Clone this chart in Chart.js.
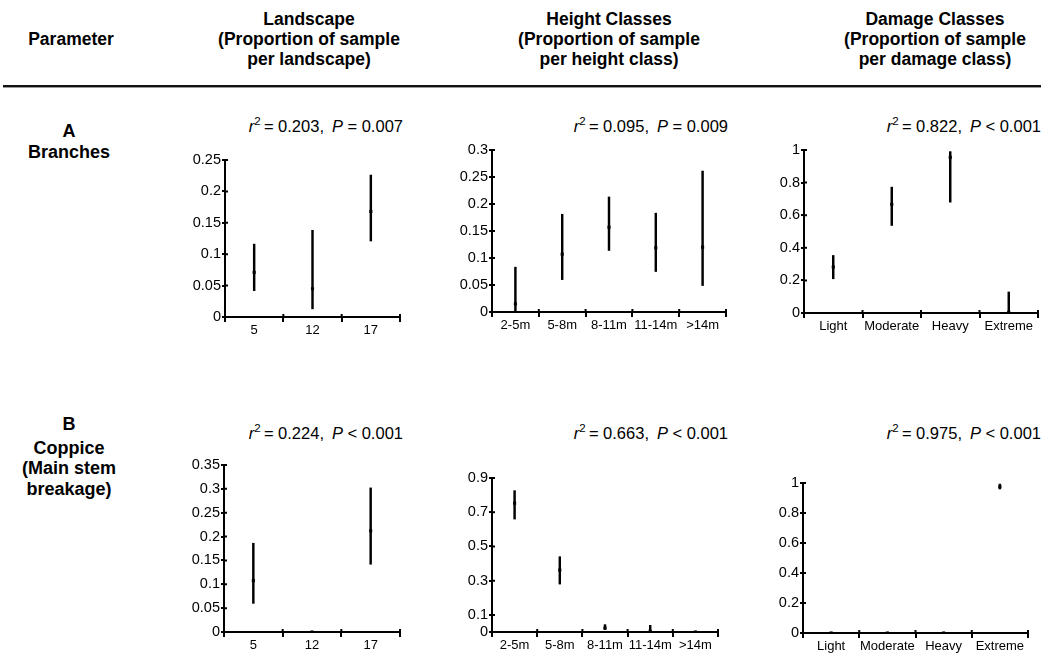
<!DOCTYPE html>
<html><head><meta charset="utf-8">
<script src="https://cdn.jsdelivr.net/npm/chart.js@4"></script>
<style>
html,body{margin:0;padding:0;background:#fff;overflow:hidden;}
body{width:1044px;height:655px;position:relative;font-family:"Liberation Sans",Arial,Helvetica,sans-serif;color:#000;}
.t{position:absolute;white-space:nowrap;}
.h{font-weight:bold;font-size:17.5px;line-height:20px;text-align:center;width:320px;}
.r{font-weight:bold;font-size:18px;line-height:18px;text-align:center;width:160px;}
.s{font-size:16.5px;line-height:16px;text-align:right;}
.s .sup{font-size:11.5px;position:relative;top:-7px;}
canvas{position:absolute;}
#rule{position:absolute;left:3px;top:85px;width:1038px;height:2px;background:#111;border-bottom:1px solid #999;}
</style></head><body>

<div class="t h" style="left:-89px;top:29px;">Parameter</div>
<div class="t h" style="left:149px;top:9px;">Landscape<br>(Proportion of sample<br>per landscape)</div>
<div class="t h" style="left:449px;top:9px;">Height Classes<br>(Proportion of sample<br>per height class)</div>
<div class="t h" style="left:775px;top:9px;">Damage Classes<br>(Proportion of sample<br>per damage class)</div>
<div id="rule"></div>

<div class="t r" style="left:-11px;top:121.8px;">A</div>
<div class="t r" style="left:-11px;top:142.8px;">Branches</div>
<div class="t r" style="left:-11px;top:414.8px;">B</div>
<div class="t r" style="left:-11px;top:438.8px;">Coppice</div>
<div class="t r" style="left:-11px;top:458.8px;">(Main stem</div>
<div class="t r" style="left:-11px;top:479.8px;">breakage)</div>

<div id="stats"></div>

<canvas id="c1"></canvas><canvas id="c2"></canvas><canvas id="c3"></canvas>
<canvas id="c4"></canvas><canvas id="c5"></canvas><canvas id="c6"></canvas>

<script>
// ---- categories ----
const landscapeCats = ['5', '12', '17'];
const heightCats = ['2-5m', '5-8m', '8-11m', '11-14m', '>14m'];
const damageCats = ['Light', 'Moderate', 'Heavy', 'Extreme'];

// ---- A: Branches ----
const branchesLandscapeMean = [0.071, 0.045, 0.168];
const branchesLandscapeLow  = [0.042, 0.013, 0.121];
const branchesLandscapeHigh = [0.116, 0.138, 0.226];

const branchesHeightMean = [0.015, 0.107, 0.157, 0.119, 0.120];
const branchesHeightLow  = [0.000, 0.060, 0.114, 0.075, 0.049];
const branchesHeightHigh = [0.083, 0.181, 0.213, 0.183, 0.261];

const branchesDamageMean = [0.282, 0.667, 0.955, 0.004];
const branchesDamageLow  = [0.210, 0.537, 0.680, 0.000];
const branchesDamageHigh = [0.353, 0.772, 0.990, 0.129];

// ---- B: Coppice (main stem breakage) ----
const coppiceLandscapeMean = [0.108, 0.000, 0.212];
const coppiceLandscapeLow  = [0.060, null, 0.142];
const coppiceLandscapeHigh = [0.186, null, 0.302];

const coppiceHeightMean = [0.753, 0.362, 0.023, 0.005, 0.000];
const coppiceHeightLow  = [0.660, 0.280, 0.015, 0.000, null];
const coppiceHeightHigh = [0.826, 0.440, 0.043, 0.039, null];

const coppiceDamageMean = [0.000, 0.000, 0.000, 0.975];
const coppiceDamageLow  = [null, null, null, 0.960];
const coppiceDamageHigh = [null, null, null, 0.993];

// ---- y tick labels ----
const yTicksBranchesLandscape = [0, 0.05, 0.1, 0.15, 0.2, 0.25];
const yTicksBranchesHeight = [0, 0.05, 0.1, 0.15, 0.2, 0.25, 0.3];
const yTicksBranchesDamage = [0, 0.2, 0.4, 0.6, 0.8, 1];
const yTicksCoppiceLandscape = [0, 0.05, 0.1, 0.15, 0.2, 0.25, 0.3, 0.35];
const yTicksCoppiceHeight = [0, 0.1, 0.3, 0.5, 0.7, 0.9];
const yTicksCoppiceDamage = [0, 0.2, 0.4, 0.6, 0.8, 1];

// ---- statistics ----
const r2Values = ['0.203', '0.095', '0.822', '0.224', '0.663', '0.975'];
const pRelations = ['=', '=', '<', '<', '<', '<'];
const pValues = ['0.007', '0.009', '0.001', '0.001', '0.001', '0.001'];

// layout (plot areas)
const boxes = [
  {l:225, r:400, t:160, b:317},
  {l:492, r:726, t:150, b:312},
  {l:804, r:1038, t:150, b:313},
  {l:224, r:400, t:465, b:632},
  {l:492, r:718, t:478, b:632},
  {l:803, r:1028, t:483, b:633}
];
const statRight = [403, 728, 1041, 403, 728, 1041];
const statTop = [117.5, 117.5, 117.5, 424.5, 424.5, 424.5];

const statsDiv = document.getElementById('stats');
r2Values.forEach((r2, i) => {
  const d = document.createElement('div');
  d.className = 't s';
  d.style.right = (1044 - statRight[i]) + 'px';
  d.style.top = statTop[i] + 'px';
  d.innerHTML = '<i>r</i><span class="sup">2</span>&#8201;= ' + r2 + ',&#8201; <i>P</i> ' + pRelations[i] + ' ' + pValues[i];
  statsDiv.appendChild(d);
});

const FONT = '"Liberation Sans", Arial, Helvetica, sans-serif';

const stubPlugin = {
  id: 'stubs',
  afterDraw(chart) {
    const ctx = chart.ctx, xs = chart.scales.x, ys = chart.scales.y;
    ctx.save();
    ctx.strokeStyle = '#000';
    ctx.lineWidth = 2;
    ctx.beginPath();
    const n = chart.data.labels.length;
    for (let i = 0; i <= n; i++) {
      const px = xs.getPixelForValue(i - 0.5);
      ctx.moveTo(px, ys.bottom);
      ctx.lineTo(px, ys.bottom - 3);
    }
    ys.ticks.forEach(tk => {
      const py = ys.getPixelForValue(tk.value);
      ctx.moveTo(xs.left, py);
      ctx.lineTo(xs.left + 3, py);
    });
    ctx.stroke();
    ctx.restore();
  }
};

function makePanel(id, box, cats, mean, lo, hi, yTicks) {
  const canvas = document.getElementById(id);
  const PADL = 60, PADT = 12, PADR = 6, PADB = 30;
  canvas.width = box.r - box.l + PADL + PADR;
  canvas.height = box.b - box.t + PADT + PADB;
  canvas.style.left = (box.l - PADL) + 'px';
  canvas.style.top = (box.t - PADT) + 'px';
  new Chart(canvas, {
    type: 'bar',
    data: {
      labels: cats,
      datasets: [
        {type: 'line', data: mean, showLine: false, pointStyle: 'rect', pointRadius: 2.2,
         pointBackgroundColor: '#000', pointBorderColor: '#000', pointBorderWidth: 0, order: 0},
        {type: 'bar', data: cats.map((c, i) => (lo[i] == null || hi[i] == null) ? null : [lo[i], hi[i]]),
         backgroundColor: '#000', barThickness: 1.8, borderWidth: 0, borderSkipped: false, order: 1}
      ]
    },
    options: {
      responsive: false, maintainAspectRatio: false, animation: false, devicePixelRatio: 1,
      layout: {padding: {top: PADT, right: PADR, left: 0, bottom: 0}},
      plugins: {legend: {display: false}, tooltip: {enabled: false}},
      scales: {
        x: {
          offset: true,
          grid: {offset: true, drawOnChartArea: false, drawTicks: true, tickLength: 5, color: '#000', lineWidth: 2},
          border: {display: true, color: '#000', width: 2},
          ticks: {color: '#000', font: {family: FONT, size: 13}, padding: 1, maxRotation: 0, autoSkip: false},
          afterFit: s => { s.height = PADB; }
        },
        y: {
          min: 0, max: yTicks[yTicks.length - 1],
          afterBuildTicks: s => { s.ticks = yTicks.map(v => ({value: v})); },
          grid: {drawOnChartArea: false, drawTicks: true, tickLength: 3, color: '#000', lineWidth: 2},
          border: {display: true, color: '#000', width: 2},
          ticks: {color: '#000', font: {family: FONT, size: 14.5}, padding: 1,
                  callback: v => String(+Number(v).toFixed(3))},
          afterFit: s => { s.width = PADL; }
        }
      }
    },
    plugins: [stubPlugin]
  });
}

makePanel('c1', boxes[0], landscapeCats, branchesLandscapeMean, branchesLandscapeLow, branchesLandscapeHigh, yTicksBranchesLandscape);
makePanel('c2', boxes[1], heightCats, branchesHeightMean, branchesHeightLow, branchesHeightHigh, yTicksBranchesHeight);
makePanel('c3', boxes[2], damageCats, branchesDamageMean, branchesDamageLow, branchesDamageHigh, yTicksBranchesDamage);
makePanel('c4', boxes[3], landscapeCats, coppiceLandscapeMean, coppiceLandscapeLow, coppiceLandscapeHigh, yTicksCoppiceLandscape);
makePanel('c5', boxes[4], heightCats, coppiceHeightMean, coppiceHeightLow, coppiceHeightHigh, yTicksCoppiceHeight);
makePanel('c6', boxes[5], damageCats, coppiceDamageMean, coppiceDamageLow, coppiceDamageHigh, yTicksCoppiceDamage);
</script>
</body></html>
